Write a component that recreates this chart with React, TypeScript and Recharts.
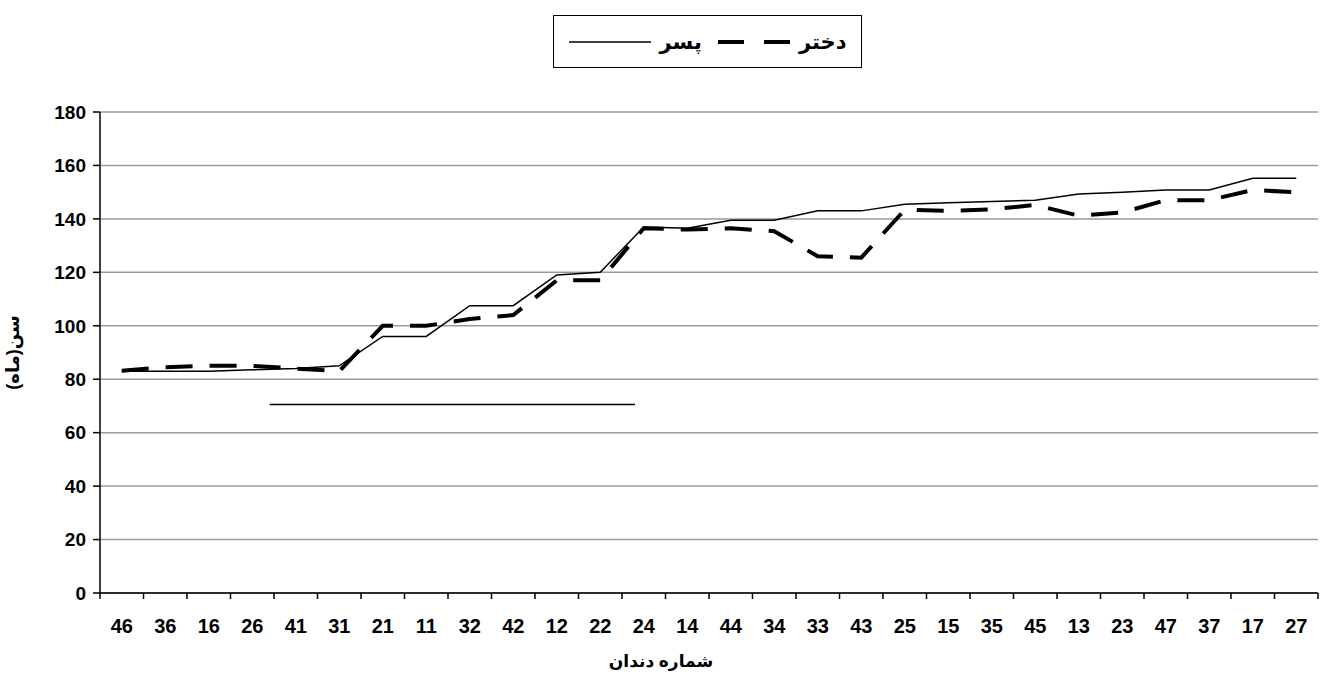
import React from 'react';
import { LineChart, Line, XAxis, YAxis, CartesianGrid, Legend, ReferenceLine } from 'recharts';

// tooth numbers, in the order they appear on the axis
const teeth = ['46', '36', '16', '26', '41', '31', '21', '11', '32', '42', '12', '22', '24', '14',
  '44', '34', '33', '43', '25', '15', '35', '45', '13', '23', '47', '37', '17', '27'];

// age in months
const boys = [83, 83, 83, 83.5, 84, 85, 96, 96, 107.5, 107.5, 119, 120, 137, 136.5,
  139.5, 139.5, 143, 143, 145.5, 146, 146.5, 147, 149.3, 150, 150.8, 150.8, 155.2, 155.2];
const girls = [83.2, 84.5, 85, 85, 84, 83, 100, 100, 102.5, 104, 117, 117, 136.5, 136,
  136.5, 135.4, 126, 125.5, 143.4, 143, 143.6, 145.2, 141.2, 142.4, 147, 147, 150.8, 150];

const yTicks = [0, 20, 40, 60, 80, 100, 120, 140, 160, 180];
// tick marks sit between the teeth
const boundTicks = [0, 1, 2, 3, 4, 5, 6, 7, 8, 9, 10, 11, 12, 13, 14, 15, 16, 17, 18, 19, 20,
  21, 22, 23, 24, 25, 26, 27, 28];

// stray horizontal line drawn on the original
const markFrom = 3.9;
const markTo = 12.3;
const markLevel = 70.5;

// legend reads left to right: boy, girl
const legendOrder = ['boy', 'girl'];

// slot = middle of each tooth's band on the hidden 0..28 axis
const data = teeth.map((t, i) => ({ tooth: t, slot: i + 0.5, boy: boys[i], girl: girls[i] }));

const font = '"Liberation Sans", Arial, "DejaVu Sans", sans-serif';
const tickStyle = { fontFamily: font, fontWeight: 'bold', fill: '#000' };

const LegendBox = ({ payload }: any) => {
  const items = [...(payload || [])].sort(
    (a: any, b: any) => legendOrder.indexOf(a.dataKey) - legendOrder.indexOf(b.dataKey)
  );
  return (
    <div
      style={{
        boxSizing: 'border-box',
        width: '100%',
        height: '100%',
        border: '1.5px solid #000',
        background: '#fff',
        display: 'flex',
        alignItems: 'center',
        justifyContent: 'center',
        fontFamily: font,
      }}
    >
      {items.map((e: any) => {
        const dashed = e.dataKey === 'girl';
        const w = dashed ? 72 : 82;
        return (
          <div key={e.value} style={{ display: 'flex', alignItems: 'center', margin: '0 8px' }}>
            <svg width={w} height={10} style={{ display: 'block' }}>
              <line
                x1={0}
                y1={5}
                x2={w}
                y2={5}
                stroke="#000"
                strokeWidth={dashed ? 4 : 1.5}
                strokeDasharray={dashed ? '26 20' : undefined}
              />
            </svg>
            <span style={{ marginLeft: 9, fontWeight: 'bold', fontSize: 21, color: '#000' }}>{e.value}</span>
          </div>
        );
      })}
    </div>
  );
};

export default function App() {
  return (
    <div style={{ position: 'absolute', left: 0, top: 0, background: '#fff' }}>
      <LineChart width={1321} height={682} data={data} margin={{ top: 112, right: 3, bottom: 0, left: 0 }}>
        <CartesianGrid xAxisId="cat" vertical={false} stroke="#9a9a9a" strokeWidth={1.5} />
        <XAxis
          xAxisId="bounds"
          dataKey="slot"
          type="number"
          domain={[0, 28]}
          allowDataOverflow={true}
          ticks={boundTicks}
          interval={0}
          height={7}
          tickSize={6}
          tickFormatter={() => ''}
          stroke="#000"
          strokeWidth={1.5}
        />
        <XAxis
          xAxisId="cat"
          dataKey="tooth"
          type="category"
          scale="band"
          interval={0}
          height={82}
          axisLine={false}
          tickLine={false}
          tickSize={0}
          tickMargin={19}
          tick={{ ...tickStyle, fontSize: 20 }}
          label={{
            value: 'شماره دندان',
            position: 'insideBottom',
            offset: 15,
            dx: -48,
            style: { fontFamily: font, fontWeight: 'bold', fontSize: 17, fill: '#000', direction: 'rtl', textAnchor: 'middle' },
          }}
        />
        <YAxis
          domain={[0, 180]}
          ticks={yTicks}
          interval={0}
          width={100}
          tickSize={7}
          tickMargin={7}
          stroke="#000"
          strokeWidth={1.5}
          tick={{ ...tickStyle, fontSize: 19 }}
          label={{
            value: 'سن(ماه)',
            angle: -90,
            position: 'insideLeft',
            offset: 13,
            style: { fontFamily: font, fontWeight: 'bold', fontSize: 18, fill: '#000', direction: 'rtl', textAnchor: 'middle' },
          }}
        />
        <Legend
          layout="horizontal"
          verticalAlign="middle"
          align="center"
          content={<LegendBox />}
          wrapperStyle={{ left: 553, top: 15, width: 309, height: 53 }}
        />
        <ReferenceLine
          xAxisId="bounds"
          segment={[{ x: markFrom, y: markLevel }, { x: markTo, y: markLevel }]}
          stroke="#000"
          strokeWidth={1.5}
        />
        <Line
          xAxisId="cat"
          dataKey="boy"
          name="پسر"
          stroke="#000"
          strokeWidth={1.5}
          dot={false}
          activeDot={false}
          isAnimationActive={false}
        />
        <Line
          xAxisId="cat"
          dataKey="girl"
          name="دختر"
          stroke="#000"
          strokeWidth={4}
          strokeDasharray="27 17"
          dot={false}
          activeDot={false}
          isAnimationActive={false}
        />
      </LineChart>
    </div>
  );
}
